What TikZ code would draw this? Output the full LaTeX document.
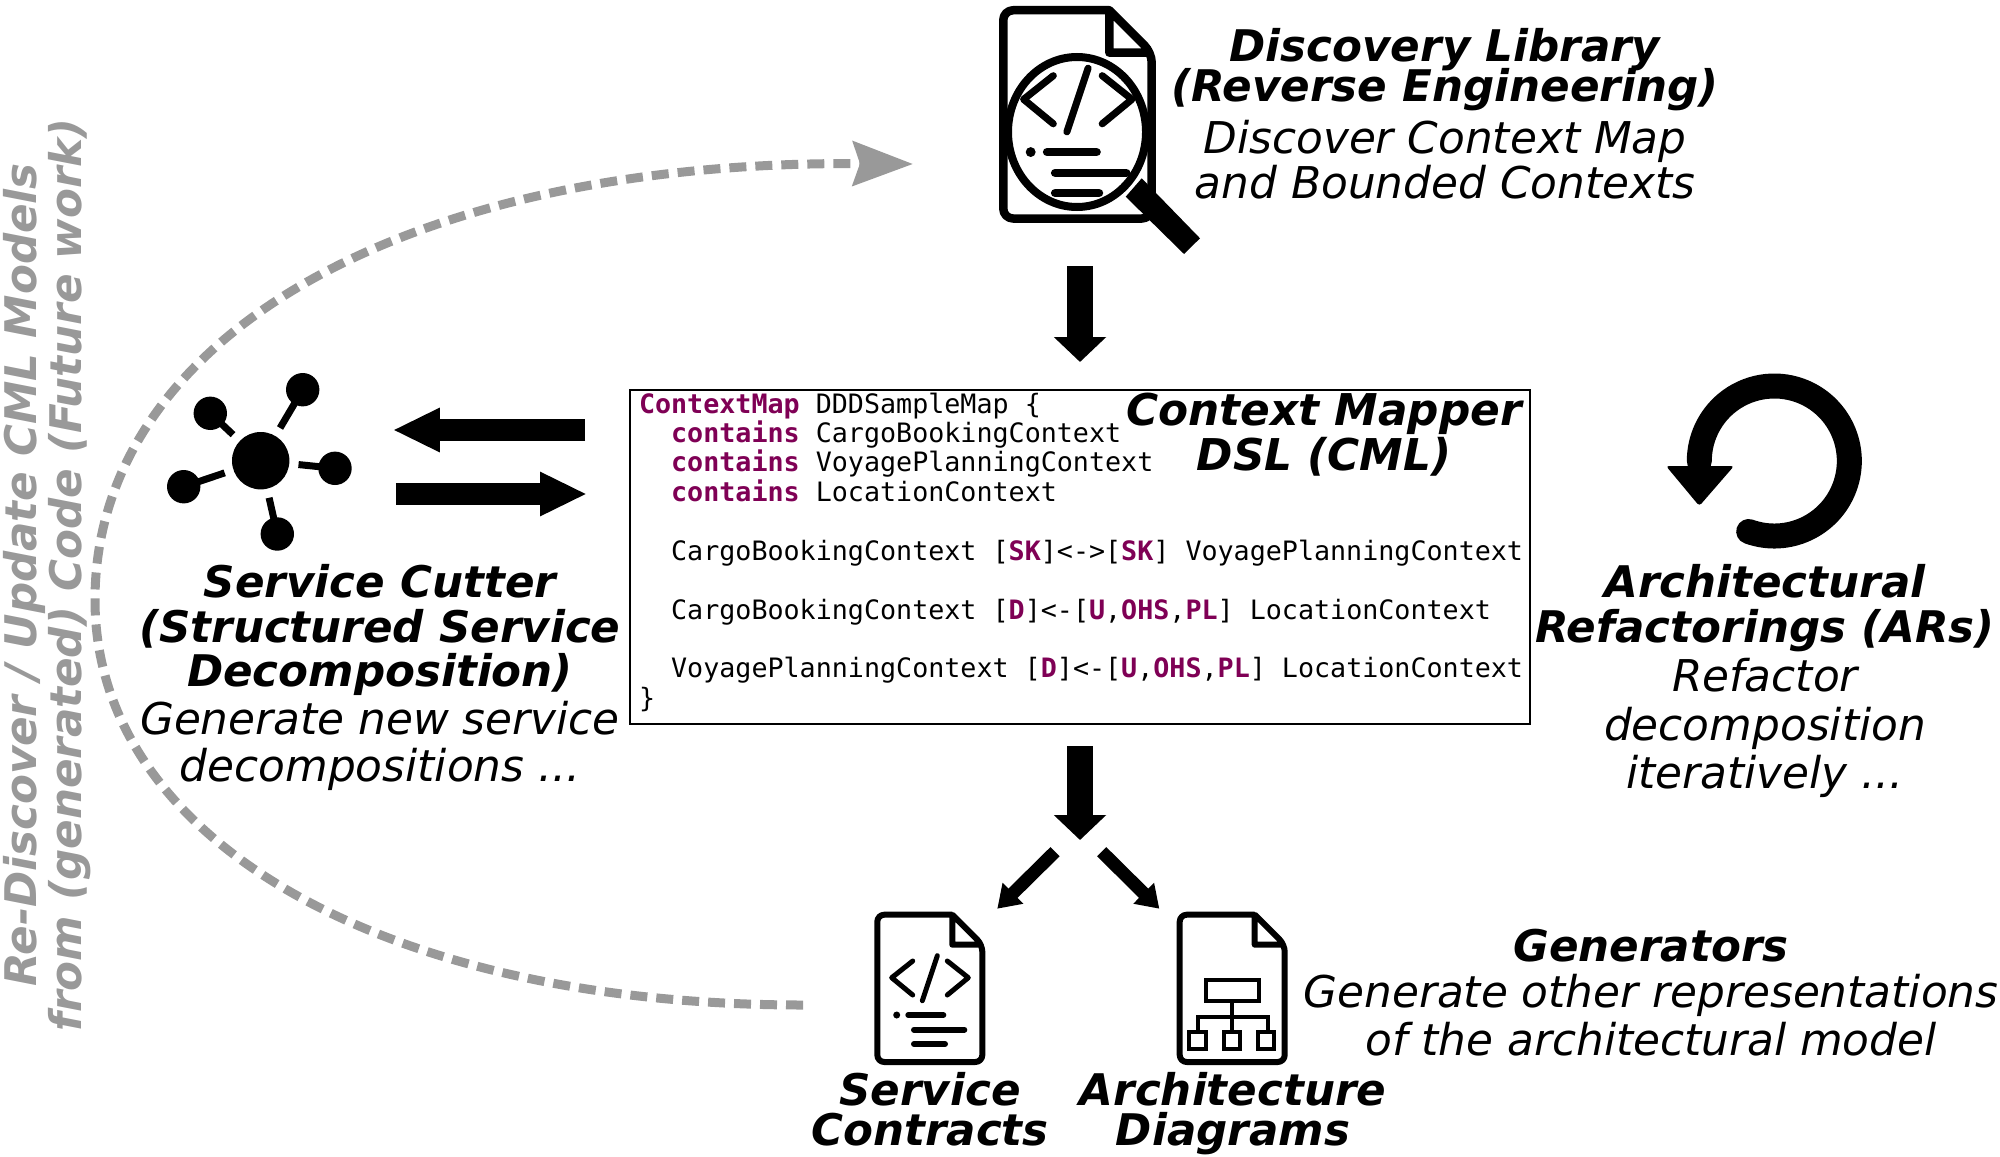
\documentclass[tikz,border=0pt]{standalone}
\usepackage{fontspec}
\setmainfont{DejaVu Sans}
\setmonofont{DejaVu Sans Mono}
\usepackage{xcolor}
\usetikzlibrary{arrows.meta,positioning,calc}
\definecolor{Keyword}{HTML}{7F0055}
\definecolor{Faded}{HTML}{999999}
\newcommand{\kw}[1]{\textcolor{Keyword}{\bfseries #1}}
\newcommand{\ind}{\hspace*{16.07pt}}
\newcommand{\tightLines}{\lineskiplimit=-20pt\relax}
\newcommand{\codeSpace}{\frenchspacing\spaceskip=8.035pt\relax\leftskip=1.5pt\relax}
\tikzset{
  titleText/.style 2 args={font=\bfseries\itshape\fontsize{#1}{#2}\selectfont\tightLines,align=center,inner sep=0pt},
  descText/.style 2 args={font=\itshape\fontsize{#1}{#2}\selectfont\tightLines,align=center,inner sep=0pt},
  codeBox/.style={draw=black,line width=1pt,fill=white,align=left,text width=444pt,inner xsep=3pt,
    inner ysep=0pt,minimum height=167pt,font=\ttfamily\fontsize{13.35}{14.72}\selectfont,execute at begin node=\codeSpace},
  iconSpot/.style={inner sep=0pt,minimum width=78pt},
  bigArr/.style={-{Triangle[length=12.5pt,width=25.5pt]},line width=13.3pt},
  midArr/.style={-{Triangle[length=23.5pt,width=20.5pt]},line width=11pt},
  smallArr/.style={-{Triangle[length=11pt,width=14pt]},line width=6.5pt},
  backArr/.style={-{Stealth[length=30pt,width=22pt,inset=3.5pt]},draw=Faded,line width=4.5pt,dash pattern=on 8.5pt off 4.5pt},
  pics/docShape/.style={code={
    \draw[line width=3pt*#1,line join=round,scale=#1] (78,3) {[rounded corners=3.5pt*#1] -- (3,3) -- (3,150.3) -- (108,150.3) -- (108,33)}
      -- (78,3) -- (78,33) -- (108,33);
  }},
  pics/codeMarks/.style={code={
    \begin{scope}[scale=#1,line cap=round,line join=round]
      \draw[line width=2.5pt*#1] (38.4,49.3) -- (17.4,66) -- (38.4,83.3);
      \draw[line width=2.5pt*#1] (63,44) -- (48,89);
      \draw[line width=2.5pt*#1] (73,49.3) -- (94,66) -- (73,83.3);
      \fill (22.4,103.3) circle[radius=3.5];
      \draw[line width=3pt*#1] (34,103.3) -- (69,103.3);
      \draw[line width=3pt*#1] (39.7,118) -- (90,118);
      \draw[line width=3pt*#1] (39.7,132.3) -- (70.7,132.3);
    \end{scope}
  }}
}
\begin{document}
\begin{tikzpicture}[x=.5pt,y=-.5pt]
  \useasboundingbox (0,0) rectangle (2000,1156);

  % returning dashed curve
  \coordinate (backStart) at (803,1005);
  \coordinate (backLeft) at (95,600);
  \coordinate (backEnd) at (913,164);
  \draw[backArr] (backStart) .. controls (383,1005) and (95,840) .. (backLeft)
    .. controls (95,340) and (400,160) .. (backEnd);
  \node[titleText={21.8}{22.5},text=Faded,rotate=90] (backLabel) at (47,575) {Re-Discover / Update CML Models\\from (generated) Code (Future work)};

  % discovery icon
  \node[iconSpot,minimum height=124pt] (discovery) at (1080,130) {};
  \pic at (999,6) {docShape=1.414};
  \fill (1141.7,178.3) -- (1200,238.3) -- (1184,254) -- (1125.7,196.7) -- cycle;
  \draw[line width=4pt,fill=white] (1077,132) ellipse[x radius=69,y radius=75];
  \pic at (999,6) {codeMarks=1.414};
  \node[titleText={21.8}{20}] (discoveryTitle) at (1445,70) {Discovery Library\\(Reverse Engineering)};
  \node[descText={21.9}{22.5},below=4.25pt of discoveryTitle] (discoveryDesc) {Discover Context Map\\and Bounded Contexts};

  % code box
  \node[codeBox] (cml) at (1080,557) {\kw{ContextMap} DDDSampleMap \{\\
    \ind\kw{contains} CargoBookingContext\\
    \ind\kw{contains} VoyagePlanningContext\\
    \ind\kw{contains} LocationContext\\[14.72pt]
    \ind CargoBookingContext [\kw{SK}]<->[\kw{SK}] VoyagePlanningContext\\[14.72pt]
    \ind CargoBookingContext [\kw{D}]<-[\kw{U},\kw{OHS},\kw{PL}] LocationContext\\[14.72pt]
    \ind VoyagePlanningContext [\kw{D}]<-[\kw{U},\kw{OHS},\kw{PL}] LocationContext\\
    \}\rule[-7pt]{0pt}{0pt}};
  \node[titleText={21.9}{22.5}] (cmlTitle) at (1324,435) {Context Mapper\\DSL (CML)};
  \draw[bigArr,shorten <=6pt,shorten >=13.5pt] (discovery.south) -- (cml.north);

  % service cutter icon
  \node[circle,fill=black,inner sep=0pt,minimum size=28.7pt] (cutter) at (260.7,460.7) {};
  \foreach \px/\py in {302.7/389.7,210.3/413.3,183.7/486.7,335/468.3,277.3/534}{
    \fill (\px,\py) circle[radius=16.7];
    \draw[line width=3.5pt] (\px,\py) -- ($(cutter)!19pt!(\px,\py)$);
  }
  \draw[midArr,shorten <=22pt,shorten >=51.5pt] (cml.west |- 0,430) -- (cutter.east |- 0,430);
  \draw[midArr,shorten <=53pt,shorten >=21pt] (cutter.east |- 0,494) -- (cml.west |- 0,494);
  \node[titleText={21.8}{22.3}] (cutterTitle) at (380,630) {Service Cutter\\(Structured Service\\Decomposition)};
  \node[descText={21.9}{23.6},below=2.2pt of cutterTitle] (cutterDesc) {Generate new service\\decompositions ...};

  % refactoring icon
  \draw[line width=12.5pt,line cap=round] (1774.3,461) ++(110:75) arc[start angle=110,end angle=-180,radius=75];
  \fill[rounded corners=1.5pt] (1666,466) -- (1734,466) -- (1699.3,506) -- cycle;
  \node[titleText={21.8}{22.3}] (refactorTitle) at (1765,608) {Architectural\\Refactorings (ARs)};
  \node[descText={21.9}{24.3},below=3pt of refactorTitle] (refactorDesc) {Refactor\\decomposition\\iteratively ...};

  % generators
  \coordinate (fork) at (1080,840);
  \coordinate (contractsTail) at (1055,851.7);
  \coordinate (contractsTip) at (997.3,908.7);
  \coordinate (diagramsTail) at (1101.7,851.7);
  \coordinate (diagramsTip) at (1159.3,908.7);
  \draw[bigArr,shorten <=10.5pt] (cml.south) -- (fork);
  \draw[smallArr] (contractsTail) -- (contractsTip);
  \draw[smallArr] (diagramsTail) -- (diagramsTip);
  \pic at (874.3,911.7) {docShape=1};
  \pic at (874.3,911.7) {codeMarks=1};
  \pic at (1176.7,911.7) {docShape=1};
  \draw[line width=2pt] (1206,980) rectangle (1258.7,1001);
  \draw[line width=2pt] (1232,1003) -- (1232,1030);
  \draw[line width=2pt] (1197.7,1030) -- (1197.7,1016.7) -- (1268.3,1016.7) -- (1268.3,1030);
  \foreach \bx in {1189.3,1223.7,1258}{
    \draw[line width=2pt] (\bx,1032) rectangle +(16.4,16.7);
  }
  \node[titleText={21.8}{20}] (contractsTitle) at (930,1109) {Service\\Contracts};
  \node[titleText={21.8}{20}] (diagramsTitle) at (1233,1114) {Architecture\\Diagrams};
  \node[titleText={21.8}{22}] (generatorsTitle) at (1651,945.5) {Generators};
  \node[descText={21.9}{24.2},below=5.5pt of generatorsTitle] (generatorsDesc) {Generate other representations\\of the architectural model};
\end{tikzpicture}
\end{document}
